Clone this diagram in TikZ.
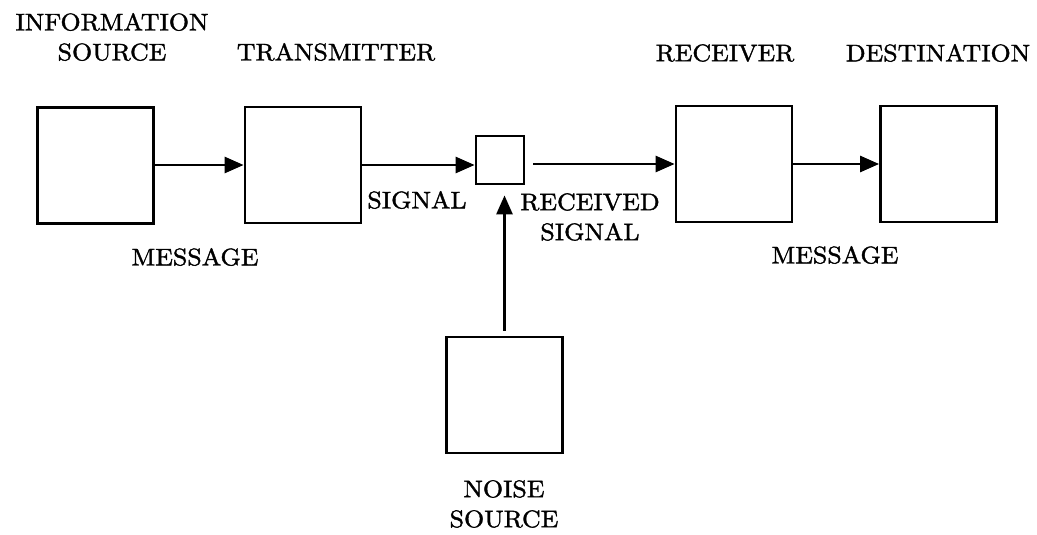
\documentclass[tikz,border=0pt]{standalone}
\usepackage{fontspec}
\setmainfont{lmroman10-regular.otf}[FakeStretch=1.08, FakeBold=1.5]
\usepackage{tikz}
\usetikzlibrary{arrows.meta, positioning}

\begin{document}
\begin{tikzpicture}[
  x=1pt, y=-1pt,
  blk/.style={draw, line width=2.8pt, minimum width=116pt, minimum height=116pt, inner sep=0pt},
  lbl/.style={align=center, inner sep=0pt, font=\fontsize{24}{30}\selectfont},
  arr/.style={line width=2.8pt, -{Triangle[length=19pt,width=16pt]}}
]
\useasboundingbox (0,0) rectangle (1037,535);
\node[blk] (src) at (95.5,165.5) {};
\node[blk] (tx) at (303,165) {};
\node[blk, minimum width=48pt, minimum height=48pt] (mix) at (500,160) {};
\node[blk] (rx) at (734,164) {};
\node[blk] (dst) at (938.5,164) {};
\node[blk] (noise) at (504.5,395) {};

\node[lbl] (l-src) at (112,37) {INFORMATION\\SOURCE};
\node[lbl] (l-tx) at (336,52) {TRANSMITTER};
\node[lbl] (l-rx) at (725,53) {RECEIVER};
\node[lbl] (l-dst) at (938,53) {DESTINATION};
\node[lbl] (l-msg1) at (195,257) {MESSAGE};
\node[lbl] (l-sig) at (417,200) {SIGNAL};
\node[lbl] (l-rsig) at (590,217) {RECEIVED\\SIGNAL};
\node[lbl] (l-msg2) at (835,255) {MESSAGE};
\node[lbl] (l-noise) at (504,504) {NOISE\\SOURCE};

\draw[arr] (src.east |- 0,165) -- (tx.west |- 0,165);
\draw[arr] (tx.east |- 0,165) -- (mix.west |- 0,165);
\draw[arr, shorten <=8pt] (mix.east |- 0,164) -- (rx.west |- 0,164);
\draw[arr] (rx.east |- 0,164) -- (dst.west |- 0,164);
\draw[arr, shorten <=5pt, shorten >=10pt] (noise.north) -- (noise.north |- mix.south);
\end{tikzpicture}
\end{document}
